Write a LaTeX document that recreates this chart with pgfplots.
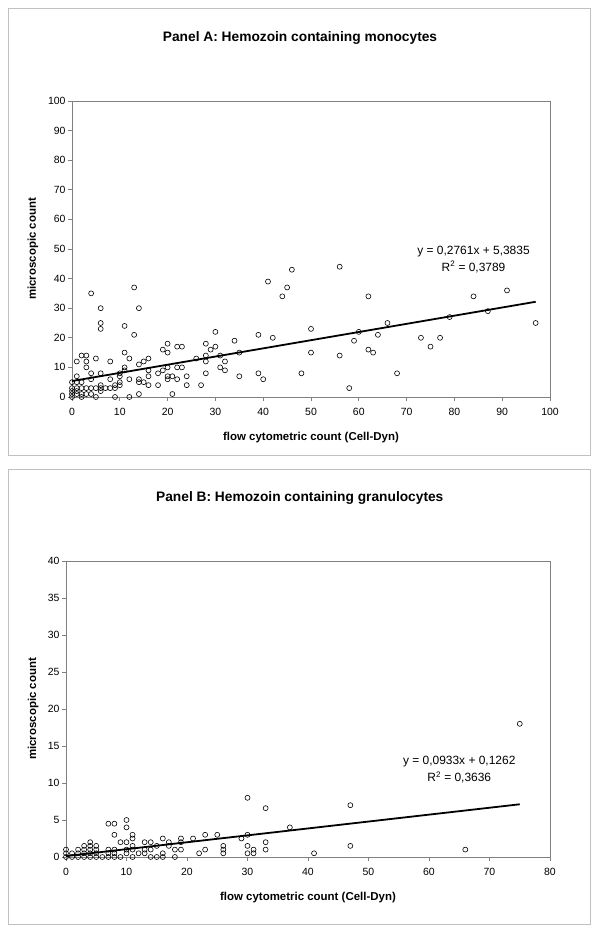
\documentclass[border=0pt]{standalone}
\usepackage{pgfplots}
\pgfplotsset{compat=1.18}
\usepackage{pgfplotstable}
\usepackage{fontspec}
\setmainfont{Liberation Sans}
\definecolor{framegray}{RGB}{192,192,192}
\definecolor{axisgray}{RGB}{128,128,128}

\pgfplotstableread{
x y
0 0
2 0
5 0
9 0
12 0
0 1
1 1
2 1
3 1
4 1
14 1
21 1
0 2
1 2
6 2
0 3
1 3
2 3
3 3
4 3
5 3
6 3
7 3
8 3
9 3
58 3
6 4
9 4
10 4
16 4
18 4
24 4
27 4
0 5
1 5
2 5
10 5
14 5
15 5
4 6
8 6
12 6
14 6
20 6
22 6
40 6
1 7
10 7
16 7
20 7
21 7
24 7
35 7
4 8
6 8
10 8
18 8
28 8
39 8
48 8
68 8
11 9
16 9
19 9
32 9
3 10
11 10
20 10
22 10
23 10
31 10
14 11
1 12
3 12
8 12
15 12
28 12
32 12
5 13
12 13
16 13
26 13
2 14
3 14
28 14
31 14
56 14
11 15
20 15
35 15
50 15
63 15
19 16
29 16
62 16
22 17
23 17
30 17
75 17
20 18
28 18
34 19
59 19
42 20
73 20
77 20
13 21
39 21
64 21
30 22
60 22
6 23
50 23
11 24
6 25
66 25
97 25
79 27
87 29
6 30
14 30
44 34
62 34
84 34
4 35
91 36
13 37
45 37
41 39
46 43
56 44
}\dataA

\pgfplotstableread{
x y
0 0
0 0.5
0 1
1 0
1 0.5
2 0
2 0.5
2 1
3 0
3 0.5
3 1
3 1.5
4 0
4 0.5
4 1
4 1.5
4 2
5 0
5 0.5
5 1
5 1.5
6 0
7 0
7 0.5
7 1
7 4.5
8 0
8 0.5
8 1
8 3
8 4.5
9 0
9 2
10 0.5
10 1
10 2
10 4
10 5
11 0
11 1
11 1.5
11 2.5
11 3
12 0.5
13 0.5
13 1
13 2
14 0
14 1
14 2
15 0
15 1.5
16 0
16 0.5
16 2.5
17 1.5
17 2
18 0
18 1
19 1
19 2
19 2.5
21 2.5
22 0.5
23 1
23 3
25 3
26 0.5
26 1
26 1.5
29 2.5
30 0.5
30 1.5
30 3
30 8
31 0.5
31 1
33 1
33 2
33 6.6
37 4
41 0.5
47 1.5
47 7
66 1
75 18
}\dataB

\pgfplotsset{
  panel/.style={
    scale only axis,
    clip=false,
    axis line style={axisgray, line width=0.8bp},
    tick align=outside,
    xtick pos=bottom, ytick pos=left,
    major tick length=4bp,
    every tick/.style={axisgray, line width=0.8bp},
    tick label style={font=\fontsize{10.5}{12}\selectfont, text=black},
    xticklabel style={yshift=-4bp},
    yticklabel style={xshift=1bp},
    /pgf/number format/assume math mode=true,
    xlabel style={font=\bfseries\fontsize{11.5}{14}\selectfont},
    ylabel style={font=\bfseries\fontsize{11.5}{14}\selectfont},
    title style={font=\bfseries\fontsize{13.8}{16}\selectfont, anchor=center},
  },
  pts/.style={only marks, mark=o, mark size=2.5bp, mark options={black, line width=0.6bp}},
  trend/.style={black, line width=1.8bp, no marks},
}

\begin{document}
\begin{tikzpicture}[x=1bp,y=1bp]
\useasboundingbox (0,0) rectangle (600,934);
\fill[white] (0,0) rectangle (600,934);
\draw[framegray, line width=1bp] (8.5,478) rectangle (590.5,925);
\draw[framegray, line width=1bp] (8.5,9) rectangle (590.5,464);

\begin{axis}[panel,
  at={(72bp,537bp)}, anchor=south west, width=478bp, height=296bp,
  xmin=0, xmax=100, ymin=0, ymax=100,
  xtick={0,10,...,100}, ytick={0,10,...,100},
  title={Panel A: Hemozoin containing monocytes},
  title style={at={(axis description cs:0.477,1.192)}},
  xlabel={flow cytometric count (Cell-Dyn)},
  xlabel style={at={(axis description cs:0.5,-0.137)}, anchor=center},
  ylabel={microscopic count},
  ylabel style={at={(axis description cs:-0.082,0.5)}, anchor=center},
]
\addplot[pts] table[x=x,y=y] {\dataA};
\addplot[trend] coordinates {(0,5.3835) (97,32.1652)};
\node[align=center, font=\fontsize{12}{17}\selectfont] at (axis cs:84,46.5) {y = 0,2761x + 5,3835\\R\textsuperscript{2} = 0,3789};
\end{axis}

\begin{axis}[panel,
  at={(66bp,77bp)}, anchor=south west, width=484bp, height=296bp,
  xmin=0, xmax=80, ymin=0, ymax=40,
  xtick={0,10,...,80}, ytick={0,5,...,40},
  title={Panel B: Hemozoin containing granulocytes},
  title style={at={(axis description cs:0.483,1.192)}},
  xlabel={flow cytometric count (Cell-Dyn)},
  xlabel style={at={(axis description cs:0.5,-0.137)}, anchor=center},
  ylabel={microscopic count},
  ylabel style={at={(axis description cs:-0.068,0.5)}, anchor=center},
]
\addplot[pts] table[x=x,y=y] {\dataB};
\addplot[trend] coordinates {(0,0.1262) (75,7.1237)};
\node[align=center, font=\fontsize{12}{17}\selectfont] at (axis cs:65,11.8) {y = 0,0933x + 0,1262\\R\textsuperscript{2} = 0,3636};
\end{axis}
\end{tikzpicture}
\end{document}
